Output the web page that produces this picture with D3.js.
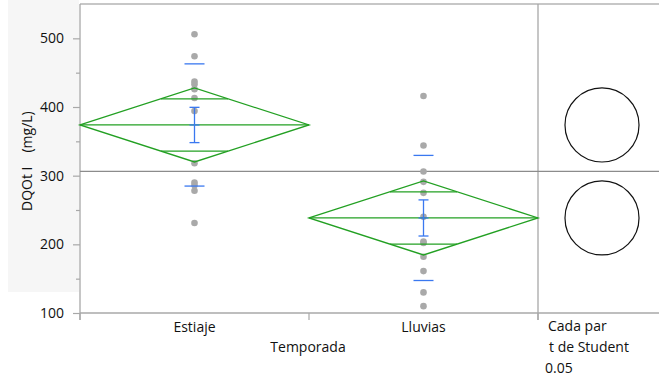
<!DOCTYPE html>
<html>
<head>
<meta charset="utf-8">
<script src="https://cdn.jsdelivr.net/npm/d3@7"></script>
<style>
  html, body { margin: 0; padding: 0; background: #fff; }
  svg { display: block; }
  text { font-family: "Open Sans", "Noto Sans", sans-serif; fill: #111; }
</style>
</head>
<body>
<svg id="chart" width="659" height="379"></svg>
<script>
// Seasons and DQO observations (mg/L)
const categories = ["Estiaje", "Lluvias"];
const estiajeValues = [506, 474, 437, 433, 426, 413, 394, 318, 290, 286, 278, 231];
const lluviasValues = [416, 344, 306, 291, 275, 240, 204, 202, 182, 161, 130, 110];
const yTicks = [100, 200, 300, 400, 500];
const yMinorTicks = [150, 250, 350, 450];
const tCritical = 2.074; // t(0.975, df = 22)

const groups = [
  { name: categories[0], values: estiajeValues },
  { name: categories[1], values: lluviasValues }
];

const svg = d3.select("#chart");
const W = 659;
const FS = 14;
const plot = { left: 80, right: 538, top: 4, bottom: 313 };

const x = d3.scaleBand().domain(categories).range([plot.left, plot.right]).padding(0);
const y = d3.scaleLinear().domain([100, 550]).range([plot.bottom, plot.top]);

// pooled statistics for the means diamonds
groups.forEach(g => {
  g.n = g.values.length;
  g.mean = d3.mean(g.values);
  g.sd = d3.deviation(g.values);
  g.se = g.sd / Math.sqrt(g.n);
});
const dfErr = d3.sum(groups, g => g.n - 1);
const ssErr = d3.sum(groups, g => d3.sum(g.values, v => (v - g.mean) ** 2));
const rootMSE = Math.sqrt(ssErr / dfErr);
groups.forEach(g => {
  g.ci = tCritical * rootMSE / Math.sqrt(g.n);
});
const grandMean = d3.mean(groups.flatMap(g => g.values));

// shaded panel behind the y axis label
svg.append("rect").attr("x", 8).attr("y", 0).attr("width", 71).attr("height", 292)
  .attr("fill", "#f6f6f6");

// frame lines
const frame = svg.append("g").attr("stroke", "#b4b4b4").attr("stroke-width", 1.3);
frame.append("line").attr("x1", plot.left).attr("x2", W).attr("y1", plot.top).attr("y2", plot.top);
frame.append("line").attr("x1", plot.right).attr("x2", plot.right).attr("y1", plot.top).attr("y2", 320)
  .attr("stroke", "#a8a8a8");

// y axis
const yAxis = svg.append("g").attr("transform", `translate(${plot.left},0)`)
  .call(d3.axisLeft(y).tickValues(yTicks).tickSize(7).tickPadding(9).tickSizeOuter(0));
yAxis.select(".domain").attr("stroke", "#a8a8a8").attr("stroke-width", 1.3)
  .attr("d", `M0,${plot.top}V${plot.bottom + 7}`);
yAxis.selectAll(".tick line").attr("stroke", "#a8a8a8").attr("stroke-width", 1.2);
yAxis.selectAll(".tick text").attr("font-size", FS).attr("fill", "#111")
  .attr("font-family", "'Open Sans', 'Noto Sans', sans-serif");
svg.append("g").attr("transform", `translate(${plot.left},0)`)
  .call(d3.axisLeft(y).tickValues(yMinorTicks).tickSize(4).tickFormat(""))
  .call(g => g.select(".domain").remove())
  .selectAll(".tick line").attr("stroke", "#a8a8a8").attr("stroke-width", 1.2);

// x axis
const xAxis = svg.append("g").attr("transform", `translate(0,${plot.bottom})`)
  .call(d3.axisBottom(x).tickSize(0).tickPadding(9));
xAxis.select(".domain").attr("stroke", "#a8a8a8").attr("stroke-width", 1.3)
  .attr("d", `M${plot.left},0H${W}`);
xAxis.selectAll(".tick text").attr("font-size", FS).attr("fill", "#111")
  .attr("font-family", "'Open Sans', 'Noto Sans', sans-serif");
const bounds = [plot.left, plot.left + x.bandwidth(), plot.right];
svg.append("g").selectAll("line").data(bounds).join("line")
  .attr("x1", d => d).attr("x2", d => d)
  .attr("y1", plot.bottom).attr("y2", 320)
  .attr("stroke", "#a8a8a8").attr("stroke-width", 1.2);

// grand mean reference line
svg.append("line")
  .attr("x1", plot.left).attr("x2", W)
  .attr("y1", y(grandMean)).attr("y2", y(grandMean))
  .attr("stroke", "#8c8c8c").attr("stroke-width", 1.2);

// data points
groups.forEach(g => {
  svg.append("g").selectAll("circle").data(g.values).join("circle")
    .attr("cx", x(g.name) + x.bandwidth() / 2)
    .attr("cy", d => y(d))
    .attr("r", 3.3)
    .attr("fill", "#a9a9a9");
});

// means diamonds with overlap marks
const green = "#23a023";
groups.forEach(g => {
  const x0 = x(g.name), x1 = x0 + x.bandwidth(), xc = x0 + x.bandwidth() / 2;
  const half = x.bandwidth() / 2;
  const pts = [[x0, y(g.mean)], [xc, y(g.mean + g.ci)], [x1, y(g.mean)], [xc, y(g.mean - g.ci)]];
  svg.append("polygon").attr("points", pts.map(p => p.join(",")).join(" "))
    .attr("fill", "none").attr("stroke", green).attr("stroke-width", 1.3);
  svg.append("line").attr("x1", x0).attr("x2", x1)
    .attr("y1", y(g.mean)).attr("y2", y(g.mean))
    .attr("stroke", green).attr("stroke-width", 1.3);
  const ov = g.ci / Math.SQRT2;
  const w = half * (1 - ov / g.ci);
  [g.mean + ov, g.mean - ov].forEach(v => {
    svg.append("line").attr("x1", xc - w).attr("x2", xc + w)
      .attr("y1", y(v)).attr("y2", y(v))
      .attr("stroke", green).attr("stroke-width", 1.3);
  });
});

// mean error bars (±1 SE) and standard deviation marks
const blue = "#3a78f0";
groups.forEach(g => {
  const xc = x(g.name) + x.bandwidth() / 2;
  const eb = svg.append("g").attr("stroke", blue).attr("stroke-width", 1.3);
  eb.append("line").attr("x1", xc).attr("x2", xc)
    .attr("y1", y(g.mean + g.se)).attr("y2", y(g.mean - g.se));
  [g.mean + g.se, g.mean, g.mean - g.se].forEach(v => {
    eb.append("line").attr("x1", xc - 5).attr("x2", xc + 5).attr("y1", y(v)).attr("y2", y(v));
  });
  [g.mean + g.sd, g.mean - g.sd].forEach(v => {
    eb.append("line").attr("x1", xc - 10).attr("x2", xc + 10).attr("y1", y(v)).attr("y2", y(v));
  });
});

// comparison circles
const cx = 602;
groups.forEach(g => {
  svg.append("circle")
    .attr("cx", cx).attr("cy", y(g.mean))
    .attr("r", y(g.mean - g.ci) - y(g.mean))
    .attr("fill", "none").attr("stroke", "#111").attr("stroke-width", 1.2);
});

// labels
svg.append("text").attr("x", 308).attr("y", 352).attr("text-anchor", "middle")
  .attr("font-size", FS).text("Temporada");
const yLabel = svg.append("text").attr("transform", "translate(32,211) rotate(-90)")
  .attr("text-anchor", "start").attr("font-size", FS);
yLabel.append("tspan").text("DQOt I");
yLabel.append("tspan").attr("dx", 14).text("(mg/L)");
svg.append("text").attr("x", 548).attr("y", 331).attr("font-size", FS).text("Cada par");
svg.append("text").attr("x", 549).attr("y", 352).attr("font-size", FS).text("t de Student");
svg.append("text").attr("x", 545).attr("y", 373).attr("font-size", FS).text("0.05");
</script>
</body>
</html>
